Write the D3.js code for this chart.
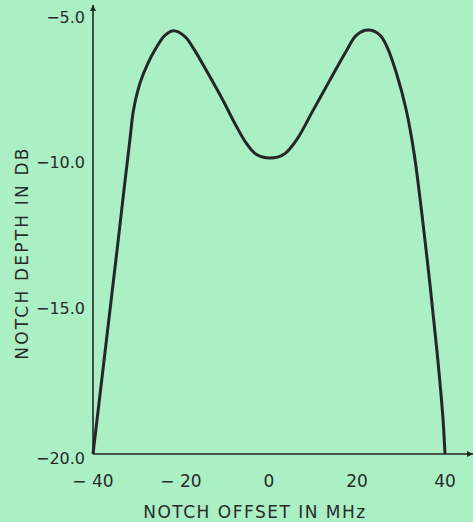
<!DOCTYPE html>
<html lang="en">
<head>
<meta charset="UTF-8">
<title>Notch depth vs offset</title>
<script src="https://cdn.jsdelivr.net/npm/d3@7"></script>
<style>
  html, body { margin: 0; padding: 0; background: #aaf0c4; }
  svg { display: block; }
  text { font-family: 'DejaVu Sans', sans-serif; fill: #2a2a2a; }
</style>
</head>
<body>
<svg id="chart"></svg>
<script>

// notch offset (MHz) and notch depth (dB)
const offsetMHz = [-40, -37.5, -34.3, -32.7, -31.6, -30.8, -29.3, -27.5, -25.5, -23.6, -21.7,
                   -19.1, -17.2, -14.0, -10.5, -7.6, -5.3, -3.0, 0.2, 3.5, 6.3, 10.1, 13.9,
                   17.7, 19.9, 22.6, 25.2, 26.8, 29.0, 31.2, 33.0, 34.7, 36.6, 38.2, 39.5, 40];
const depthDB = [-20.0, -16.8, -12.7, -10.6, -9.2, -8.2, -7.26, -6.58, -6.02, -5.62, -5.47,
                 -5.67, -6.07, -6.9, -7.85, -8.7, -9.3, -9.7, -9.84, -9.7, -9.21, -8.18, -7.15,
                 -6.13, -5.62, -5.45, -5.62, -6.02, -6.95, -8.2, -9.7, -11.7, -14.2, -16.5, -18.7, -20.0];

const xTicks = [-40, -20, 0, 20, 40];
const yTicks = [-20, -15, -10, -5];

const W = 473, H = 522;
const svg = d3.select('#chart').attr('width', W).attr('height', H);

const x = d3.scaleLinear().domain([-40, 40]).range([93, 445]);
const y = d3.scaleLinear().domain([-20, -5]).range([454, 17]);

const ink = '#262626';
const minus = s => s.replace('-', '\u2212');

// arrow heads
const defs = svg.append('defs');
defs.append('marker')
    .attr('id', 'arrow')
    .attr('viewBox', '0 0 10 10')
    .attr('refX', 10).attr('refY', 5)
    .attr('markerWidth', 16).attr('markerHeight', 6)
    .attr('markerUnits', 'userSpaceOnUse')
    .attr('orient', 'auto')
    .append('path')
    .attr('d', 'M0,0 L10,5 L0,10 Z')
    .attr('fill', ink);

// axes
svg.append('line')
    .attr('x1', x(-40)).attr('y1', y(-20))
    .attr('x2', x(-40)).attr('y2', 5)
    .attr('stroke', ink).attr('stroke-width', 1.6)
    .attr('marker-end', 'url(#arrow)');

svg.append('line')
    .attr('x1', x(-40)).attr('y1', y(-20))
    .attr('x2', 473).attr('y2', y(-20))
    .attr('stroke', ink).attr('stroke-width', 1.6)
    .attr('marker-end', 'url(#arrow)');

// tick labels
svg.selectAll('.ylab')
    .data(yTicks)
    .enter().append('text')
    .attr('class', 'ylab')
    .attr('x', 85)
    .attr('y', d => y(d))
    .attr('dy', d => d === -20 ? '0.6em' : '0.35em')
    .attr('text-anchor', 'end')
    .style('font-size', '16px')
    .text(d => minus(d3.format('.1f')(d)));

svg.selectAll('.xlab')
    .data(xTicks)
    .enter().append('text')
    .attr('class', 'xlab')
    .attr('x', d => x(d))
    .attr('y', 487)
    .attr('text-anchor', 'middle')
    .style('font-size', '17px')
    .text(d => d < 0 ? '\u2212 ' + Math.abs(d) : d);

// axis titles
svg.append('text')
    .attr('x', 255).attr('y', 518)
    .attr('text-anchor', 'middle')
    .style('font-size', '17px')
    .style('letter-spacing', '1.5px')
    .text('NOTCH  OFFSET  IN  MHz');

svg.append('text')
    .attr('transform', 'translate(28,253) rotate(-90)')
    .attr('text-anchor', 'middle')
    .style('font-size', '17px')
    .style('letter-spacing', '2.2px')
    .text('NOTCH  DEPTH  IN  DB');

// curve
const pts = offsetMHz.map((v, i) => [v, depthDB[i]]);
const line = d3.line()
    .x(d => x(d[0]))
    .y(d => y(d[1]))
    .curve(d3.curveCatmullRom.alpha(0.5));

svg.append('path')
    .datum(pts)
    .attr('d', line)
    .attr('fill', 'none')
    .attr('stroke', ink)
    .attr('stroke-width', 3)
    .attr('stroke-linejoin', 'round');

</script>
</body>
</html>
